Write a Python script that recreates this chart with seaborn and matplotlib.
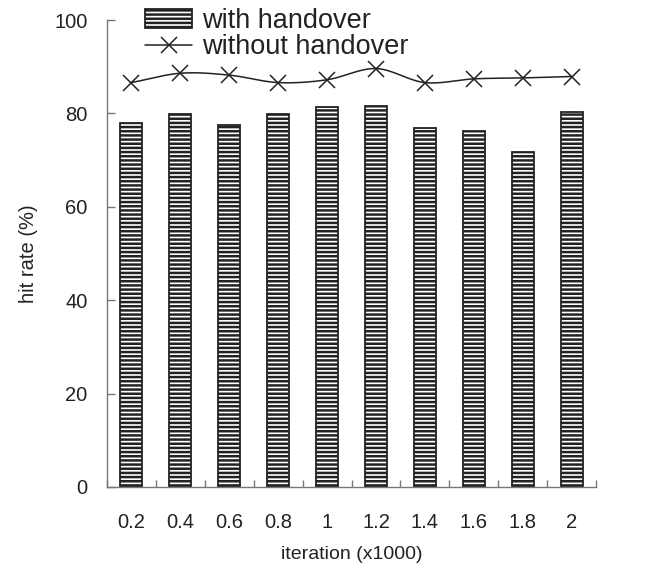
import numpy as np
import pandas as pd
import matplotlib
matplotlib.use("Agg")
import matplotlib.pyplot as plt
import seaborn as sns
from matplotlib.patches import Patch
from matplotlib.lines import Line2D
from matplotlib.ticker import FixedLocator

categories = ["0.2", "0.4", "0.6", "0.8", "1", "1.2", "1.4", "1.6", "1.8", "2"]
with_handover = [77.9, 79.8, 77.5, 79.8, 81.3, 81.6, 76.8, 76.3, 71.7, 80.4]
without_handover = [86.6, 88.6, 88.2, 86.6, 87.2, 89.6, 86.6, 87.4, 87.6, 87.9]
y_ticks = [0, 20, 40, 60, 80, 100]

sns.set_theme(style="white")
plt.rcParams["font.family"] = ["Liberation Sans", "DejaVu Sans"]
plt.rcParams["hatch.linewidth"] = 1.8
plt.rcParams["hatch.color"] = "black"

fig = plt.figure(figsize=(6.64, 5.69), dpi=100)
ax = fig.add_axes([107 / 664, 1 - 487 / 569, (596 - 107) / 664, (487 - 20) / 569])

df = pd.DataFrame({"cat": categories, "with": with_handover, "without": without_handover})
sns.barplot(data=df, x="cat", y="with", ax=ax, color="white", width=0.45,
            edgecolor="#222222", linewidth=1.3, saturation=1)
for p in ax.patches:
    p.set_hatch("----")

# smoothed line (Catmull-Rom through the data points)
xs = np.arange(len(categories), dtype=float)
ys = np.array(without_handover, dtype=float)
px = np.concatenate([[2 * xs[0] - xs[1]], xs, [2 * xs[-1] - xs[-2]]])
py = np.concatenate([[2 * ys[0] - ys[1]], ys, [2 * ys[-1] - ys[-2]]])
cx, cy = [], []
for i in range(1, len(px) - 2):
    t = np.linspace(0, 1, 30)
    p0, p1, p2, p3 = py[i - 1], py[i], py[i + 1], py[i + 2]
    q0, q1, q2, q3 = px[i - 1], px[i], px[i + 1], px[i + 2]
    cy.append(0.5 * (2 * p1 + (-p0 + p2) * t + (2 * p0 - 5 * p1 + 4 * p2 - p3) * t**2 + (-p0 + 3 * p1 - 3 * p2 + p3) * t**3))
    cx.append(0.5 * (2 * q1 + (-q0 + q2) * t + (2 * q0 - 5 * q1 + 4 * q2 - q3) * t**2 + (-q0 + 3 * q1 - 3 * q2 + q3) * t**3))
ax.plot(np.concatenate(cx), np.concatenate(cy), color="#222222", lw=1.1, zorder=3)
ax.plot(xs, ys, linestyle="none", marker="x", markersize=11.5, markeredgewidth=1.1,
        color="#222222", zorder=4)

ax.set_xlim(-0.5, len(categories) - 0.5)
ax.set_ylim(0, 100)
ax.set_yticks(y_ticks)
ax.set_xticks(range(len(categories)))
ax.set_xticklabels(categories)
ax.xaxis.set_minor_locator(FixedLocator(np.arange(-0.5, len(categories), 1.0)))

for s in ["top", "right"]:
    ax.spines[s].set_visible(False)
for s in ["left", "bottom"]:
    ax.spines[s].set_color("#777777")
    ax.spines[s].set_linewidth(1.0)

ax.tick_params(axis="x", which="major", length=0, pad=19, labelsize=14.5, colors="#222222")
ax.tick_params(axis="x", which="minor", direction="in", length=5, width=1, color="#777777", bottom=True)
ax.tick_params(axis="y", which="major", direction="in", length=6, width=1, color="#777777",
               pad=14, labelsize=14.5, labelcolor="#222222", left=True)

ax.set_xlabel("iteration (x1000)", fontsize=14, color="#222222", labelpad=10)
ax.set_ylabel("hit rate (%)", fontsize=14.5, color="#222222", labelpad=12)

handles = [Patch(facecolor="white", edgecolor="#222222", hatch="----", linewidth=1.3),
           Line2D([0], [0], color="#222222", lw=1.1, marker="x", markersize=11.5, markeredgewidth=1.1)]
fig.legend(handles, ["with handover", "without handover"], loc="upper left",
           bbox_to_anchor=(145 / 664, 1 - 8 / 569), frameon=False, fontsize=19.5,
           handlelength=1.75, handletextpad=0.35, labelspacing=0.0, borderpad=0,
           borderaxespad=0, labelcolor="#222222")

fig.savefig("out.png", dpi=100)
